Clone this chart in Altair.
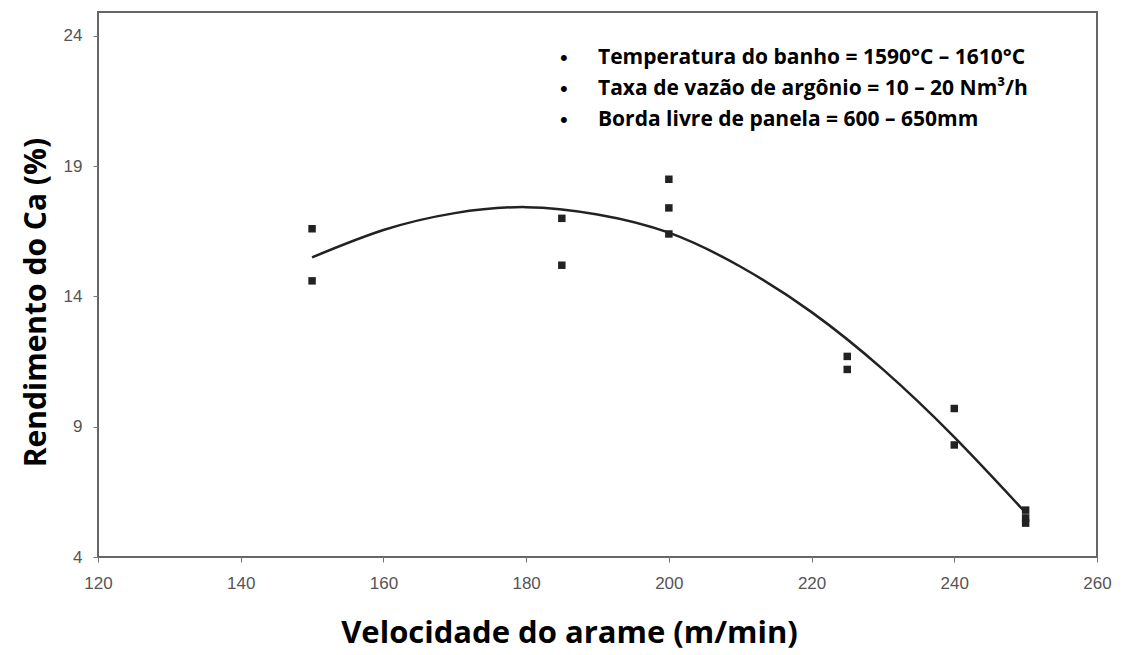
import altair as alt
import pandas as pd

# Measured data points (velocity m/min, Ca yield %)
pt_x = [150, 150, 185, 185, 200, 200, 200, 225, 225, 240, 240, 250, 250, 250]
pt_y = [16.6, 14.6, 17.0, 15.2, 18.5, 17.4, 16.4, 11.7, 11.2, 9.7, 8.3, 5.8, 5.5, 5.3]

# Trend curve
cv_x = [150, 160, 170, 180, 190, 200, 210, 220, 230, 240, 250]
cv_y = [15.5, 16.55, 17.2, 17.43, 17.15, 16.45, 15.15, 13.4, 11.2, 8.6, 5.7]

notes = [
    "Temperatura do banho = 1590°C – 1610°C",
    "Taxa de vazão de argônio = 10 – 20 Nm³/h",
    "Borda livre de panela = 600 – 650mm",
]
note_y = [46, 77, 108]

x_ticks = [120, 140, 160, 180, 200, 220, 240, 260]
y_ticks = [4, 9, 14, 19, 24]

pts = pd.DataFrame({"x": pt_x, "y": pt_y})
cv = pd.DataFrame({"x": cv_x, "y": cv_y})
nt = pd.DataFrame({"t": notes, "py": note_y})

xs = alt.Scale(domain=[120, 260], nice=False, zero=False)
ys = alt.Scale(domain=[4, 24.92], nice=False, zero=False)

xaxis = alt.Axis(
    values=x_ticks, title="Velocidade do arame (m/min)", grid=False,
    labelFont="Liberation Sans", labelFontSize=17, labelColor="#555",
    labelPadding=13, labelFlush=False, tickColor="#777", tickSize=5, domain=False,
    titleFont="Open Sans", titleFontSize=31, titleFontWeight="bold",
    titleColor="#000", titlePadding=27, titleX=471, titleAlign="center",
)
yaxis = alt.Axis(
    values=y_ticks, title="Rendimento do Ca (%)", grid=False,
    labelFont="Liberation Sans", labelFontSize=17, labelColor="#555",
    labelPadding=11, labelFlush=False, tickColor="#777", tickSize=5, domain=False,
    titleFont="Open Sans", titleFontSize=30, titleFontWeight="bold",
    titleColor="#000", titlePadding=12, titleY=290, titleAlign="center",
)

points = alt.Chart(pts).mark_point(
    shape="square", filled=True, size=56, color="#222", opacity=1
).encode(
    x=alt.X("x:Q", scale=xs, axis=xaxis),
    y=alt.Y("y:Q", scale=ys, axis=yaxis),
)

curve = alt.Chart(cv).mark_line(
    color="#222", strokeWidth=2.5, interpolate="natural"
).encode(x=alt.X("x:Q", scale=xs), y=alt.Y("y:Q", scale=ys))

bullets = alt.Chart(nt).mark_text(
    text="•", font="Liberation Sans", fontSize=22, color="#000", align="left", baseline="middle"
).encode(x=alt.value(462), y=alt.Y("py:Q", scale=None))

texts = alt.Chart(nt).mark_text(
    font="Open Sans", fontSize=21, fontWeight="bold", color="#000",
    align="left", baseline="middle"
).encode(x=alt.value(500), y=alt.Y("py:Q", scale=None), text="t:N")

chart = alt.layer(curve, points, bullets, texts).properties(
    width=999, height=545,
    background="white",
    autosize=alt.AutoSizeParams(type="none"),
    padding={"left": 98, "top": 12, "right": 25, "bottom": 98},
).configure_view(
    stroke="#666", strokeWidth=2
)

chart.save("out.html", embed_options={"renderer": "svg", "actions": False})
